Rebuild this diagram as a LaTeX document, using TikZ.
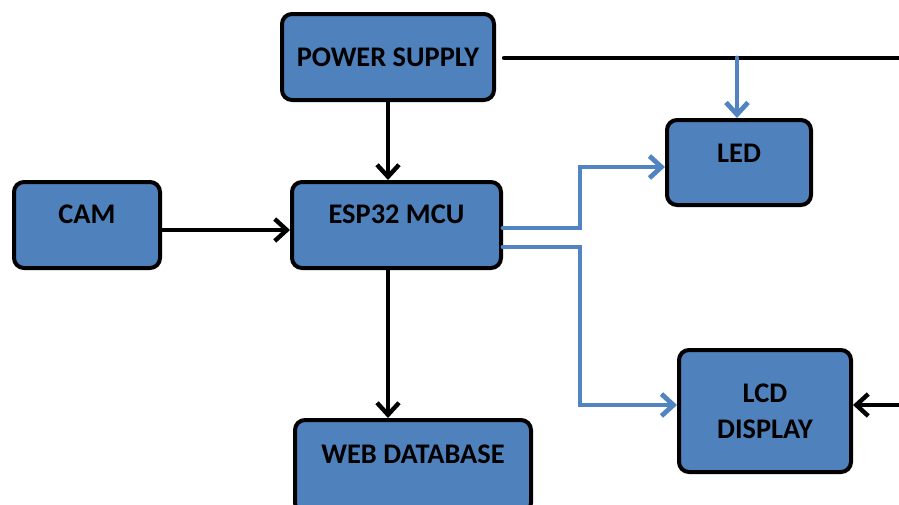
\documentclass[tikz,border=0pt]{standalone}
\usepackage{fontspec}
\setmainfont{Carlito}
\usepackage{tikz}
\usetikzlibrary{positioning,calc}
\usetikzlibrary{arrows.meta}
\definecolor{BoxBlue}{RGB}{79,129,189}
\definecolor{WireBlue}{RGB}{82,132,194}
\tikzset{
  blk/.style={rectangle,draw=black,fill=BoxBlue,line width=2pt,rounded corners=5pt,
    font=\fontsize{14.2}{18}\selectfont\bfseries,align=center,inner sep=0pt},
  up/.style={text height=9pt,text depth=#1},
  wire/.style={draw=black,line width=2.2pt,line cap=round},
  sig/.style={draw=WireBlue,line width=2.4pt,line cap=round},
}
\tikzset{>={Straight Barb[length=6pt,width=11pt]}}

\begin{document}
\begin{tikzpicture}[x=0.5pt,y=-0.5pt]
\useasboundingbox (0,0) rectangle (899,504);
\clip (0,0) rectangle (899,504);
\node[blk,minimum width=106pt,minimum height=43pt] (ps) at (388,57) {POWER SUPPLY};
\node[blk,up=9.5pt,minimum width=72pt,minimum height=42.5pt] (led) at (739,162.5) {LED};
\node[blk,up=11pt,minimum width=73pt,minimum height=43pt] (cam) at (87,225) {CAM};
\node[blk,up=11pt,minimum width=104.5pt,minimum height=43pt] (esp) at (396.5,225) {ESP32 MCU};
\node[blk,minimum width=86pt,minimum height=61pt] (lcd) at (765,411) {LCD\\DISPLAY};
\node[blk,up=12.5pt,minimum width=118pt,minimum height=46.5pt] (web) at (413,466.5) {WEB DATABASE};
\coordinate (pw) at (899,58);
\coordinate (tap) at (737,58);
\coordinate (pin) at (899,405);
% supply rail
\draw[wire] ([xshift=4pt,yshift=-0.5pt]ps.east) -- (pw);
\draw[sig,->] (tap) -- (tap |- led.north);
\draw[wire,->] (ps.south) -- (ps.south |- esp.north);
\draw[wire,->] ([yshift=-2.5pt]cam.east) -- ([yshift=-2.5pt]esp.west);
\draw[wire,->] (ps.south |- esp.south) -- (ps.south |- web.north);
% outputs
\draw[sig,->] ([yshift=-1.5pt]esp.east) -| (580,167) -- ([yshift=-2.25pt]led.west);
\draw[sig,->] ([yshift=-11pt]esp.east) -| (580,405) -- ([yshift=3pt]lcd.west);
\draw[wire,->] (pin) -- ([yshift=3pt]lcd.east);
\end{tikzpicture}
\end{document}
